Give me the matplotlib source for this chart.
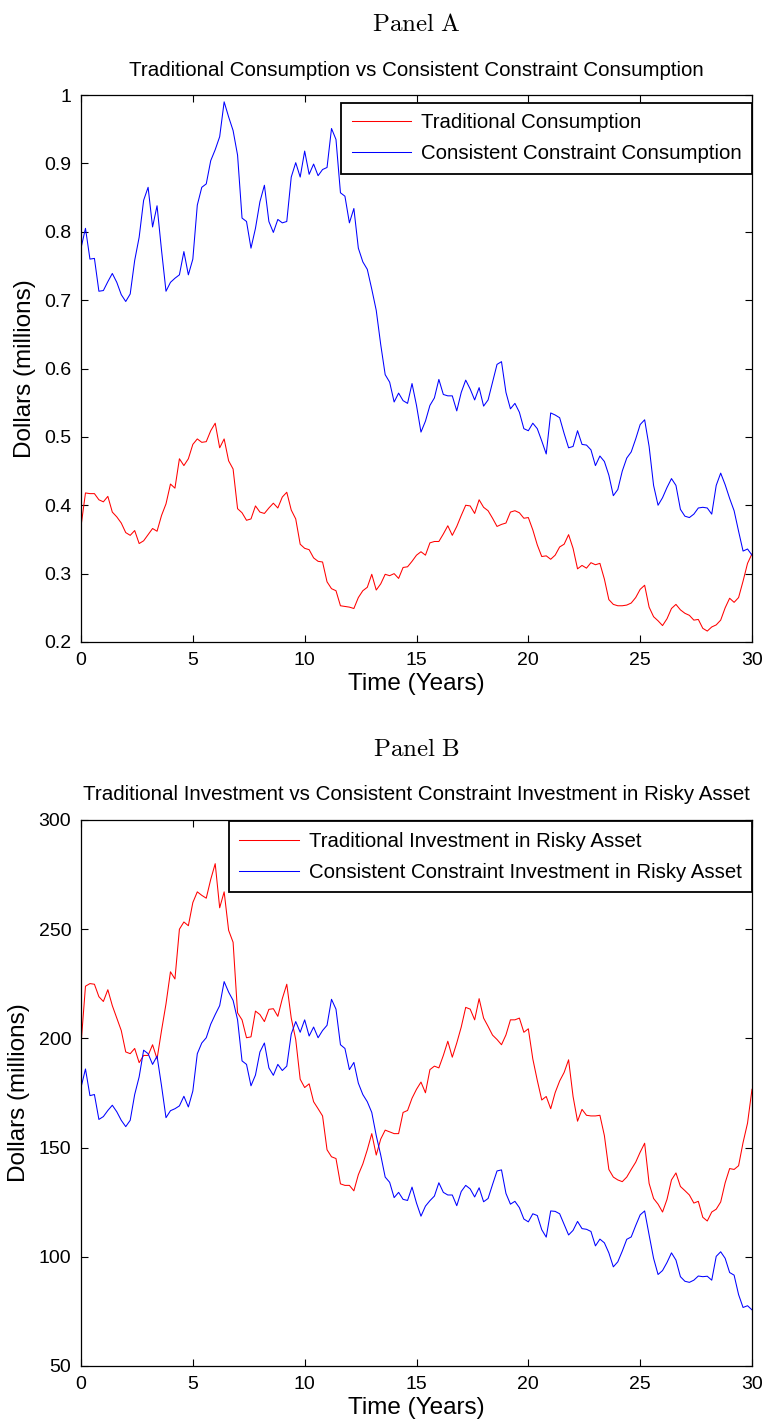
import numpy as np
import matplotlib
matplotlib.use("Agg")
import matplotlib.pyplot as plt

plt.rcParams["font.family"] = ["Liberation Sans", "DejaVu Sans"]
plt.rcParams["mathtext.fontset"] = "cm"

# Simulation horizon sampled every 0.2 years
years = np.round(np.arange(0, 30.0001, 0.2), 1)

# Panel A: consumption paths (millions of dollars)
trad_consumption = [
    0.369, 0.418, 0.417, 0.417, 0.408, 0.405, 0.413, 0.390, 0.383, 0.374,
    0.360, 0.356, 0.363, 0.344, 0.348, 0.357, 0.366, 0.362, 0.385, 0.402,
    0.431, 0.425, 0.468, 0.458, 0.468, 0.489, 0.497, 0.492, 0.493, 0.509,
    0.520, 0.484, 0.497, 0.465, 0.453, 0.395, 0.389, 0.378,
    0.380, 0.399, 0.390, 0.388, 0.396, 0.403, 0.396, 0.412, 0.419, 0.393,
    0.380, 0.343, 0.337, 0.335, 0.323, 0.318, 0.317, 0.288, 0.278, 0.275,
    0.253, 0.252, 0.251, 0.249, 0.265, 0.275, 0.280, 0.299, 0.276, 0.285,
    0.299, 0.297, 0.300, 0.293, 0.309, 0.310, 0.318, 0.327,
    0.332, 0.327, 0.345, 0.347, 0.347, 0.358, 0.370, 0.356, 0.369, 0.385,
    0.400, 0.399, 0.388, 0.408, 0.397, 0.392, 0.381, 0.369, 0.372, 0.374,
    0.390, 0.392, 0.389, 0.381, 0.382, 0.364, 0.342, 0.325, 0.326, 0.321,
    0.327, 0.339, 0.343, 0.357, 0.337, 0.307, 0.312, 0.308,
    0.316, 0.313, 0.315, 0.292, 0.262, 0.255, 0.253, 0.253, 0.254, 0.257,
    0.265, 0.277, 0.283, 0.251, 0.237, 0.231, 0.224, 0.234, 0.249, 0.255,
    0.247, 0.242, 0.239, 0.232, 0.233, 0.220, 0.216, 0.222, 0.225, 0.232,
    0.250, 0.264, 0.258, 0.265, 0.289, 0.315, 0.329,
]
cons_consumption = [
    0.776, 0.805, 0.760, 0.761, 0.713, 0.714, 0.727, 0.739, 0.726, 0.708,
    0.698, 0.709, 0.758, 0.792, 0.846, 0.865, 0.807, 0.838, 0.773, 0.713,
    0.726, 0.732, 0.737, 0.771, 0.737, 0.760, 0.839, 0.865, 0.870, 0.904,
    0.920, 0.939, 0.990, 0.968, 0.948, 0.912, 0.820, 0.815,
    0.776, 0.805, 0.844, 0.868, 0.815, 0.799, 0.818, 0.813, 0.815, 0.880,
    0.901, 0.880, 0.918, 0.884, 0.899, 0.882, 0.891, 0.894, 0.951, 0.935,
    0.857, 0.852, 0.813, 0.834, 0.776, 0.756, 0.745, 0.716, 0.685, 0.635,
    0.591, 0.580, 0.551, 0.564, 0.553, 0.549, 0.578, 0.546,
    0.507, 0.523, 0.546, 0.557, 0.584, 0.562, 0.560, 0.560, 0.538, 0.565,
    0.583, 0.570, 0.554, 0.572, 0.545, 0.554, 0.580, 0.606, 0.610, 0.565,
    0.541, 0.549, 0.536, 0.512, 0.509, 0.520, 0.512, 0.494, 0.475, 0.535,
    0.532, 0.528, 0.505, 0.484, 0.486, 0.509, 0.489, 0.488,
    0.481, 0.458, 0.472, 0.464, 0.444, 0.414, 0.423, 0.450, 0.469, 0.478,
    0.497, 0.518, 0.525, 0.486, 0.429, 0.400, 0.411, 0.426, 0.439, 0.429,
    0.394, 0.384, 0.382, 0.387, 0.396, 0.397, 0.396, 0.387, 0.429, 0.447,
    0.430, 0.410, 0.392, 0.362, 0.333, 0.336, 0.327,
]

# Panel B: investment in the risky asset (millions of dollars)
trad_investment = [
    197.1, 223.9, 225.1, 224.8, 219.1, 216.9, 222.3, 215.0, 209.3, 203.6,
    193.8, 193.0, 195.4, 188.9, 192.2, 192.2, 197.1, 190.6, 203.6, 215.8,
    230.5, 227.2, 250.0, 253.3, 251.6, 262.2, 267.1, 265.5, 264.2, 272.8,
    280.0, 259.8, 267.1, 249.5, 244.0, 211.7, 208.5, 200.3,
    200.7, 212.5, 210.9, 207.7, 213.3, 213.6, 210.1, 218.2, 224.8, 209.3,
    199.5, 181.3, 177.5, 179.2, 171.0, 167.8, 164.5, 149.0, 145.8, 145.0,
    133.4, 132.7, 132.7, 130.2, 137.6, 142.5, 149.0, 156.4, 146.6, 153.9,
    158.0, 157.2, 156.4, 156.4, 166.1, 167.0, 172.6, 176.7,
    180.0, 175.1, 185.7, 187.3, 186.5, 192.2, 198.7, 191.4, 197.9, 205.2,
    214.2, 213.4, 208.5, 218.2, 209.3, 205.5, 201.5, 199.5, 197.1, 201.6,
    208.5, 208.5, 209.3, 202.8, 204.4, 190.6, 180.8, 171.8, 173.4, 167.8,
    175.2, 180.5, 184.4, 190.2, 173.4, 162.1, 167.5, 164.8,
    164.5, 164.5, 164.8, 155.5, 140.0, 136.5, 135.2, 134.4, 136.5, 140.0,
    143.3, 147.9, 152.0, 133.6, 126.7, 124.1, 120.5, 126.3, 135.2, 138.4,
    132.2, 130.3, 128.3, 124.6, 125.4, 118.1, 116.4, 120.5, 121.8, 125.1,
    133.9, 140.4, 140.0, 141.7, 152.3, 161.2, 176.7,
]
cons_investment = [
    177.5, 186.0, 173.8, 174.3, 162.9, 164.2, 167.0, 169.4, 166.4, 162.5,
    159.6, 162.5, 174.3, 182.4, 194.6, 193.0, 188.1, 191.9, 178.3, 163.7,
    166.9, 167.8, 169.1, 173.5, 168.6, 175.9, 193.0, 197.9, 200.3, 206.5,
    210.9, 215.0, 226.0, 221.2, 217.4, 208.5, 189.7, 188.1,
    178.3, 183.2, 193.8, 197.9, 186.5, 183.1, 188.1, 185.3, 187.3, 202.0,
    207.7, 202.8, 208.5, 201.1, 205.2, 200.3, 203.6, 206.0, 217.9, 213.4,
    197.1, 195.4, 185.7, 189.0, 179.5, 174.3, 171.0, 166.1, 155.5, 146.6,
    136.5, 134.1, 127.1, 129.5, 126.3, 125.8, 131.9, 124.6,
    118.6, 123.2, 125.7, 127.8, 133.9, 129.5, 128.3, 128.3, 123.4, 129.9,
    132.7, 131.1, 127.4, 131.6, 125.2, 126.7, 133.1, 139.3, 139.8, 129.0,
    124.1, 125.4, 122.5, 117.3, 116.0, 119.7, 118.9, 112.4, 109.0, 121.0,
    120.8, 119.7, 114.8, 110.0, 112.1, 116.2, 112.9, 112.6,
    111.6, 105.0, 108.1, 106.4, 101.8, 95.4, 97.7, 102.6, 108.0, 109.1,
    114.3, 119.2, 121.0, 110.0, 99.3, 91.9, 93.7, 97.4, 101.8, 98.5,
    90.9, 88.8, 88.3, 89.3, 91.2, 90.9, 91.1, 89.3, 100.2, 102.3,
    99.3, 92.8, 91.6, 82.7, 76.8, 77.6, 75.7,
]

x_ticks = [0, 5, 10, 15, 20, 25, 30]
a_ticks = [0.2, 0.3, 0.4, 0.5, 0.6, 0.7, 0.8, 0.9, 1.0]
a_tick_labels = ["0.2", "0.3", "0.4", "0.5", "0.6", "0.7", "0.8", "0.9", "1"]
b_ticks = [50, 100, 150, 200, 250, 300]

W, H = 765, 1427
fig = plt.figure(figsize=(W / 100, H / 100), dpi=100)


def frac_axes(left, top, right, bottom):
    return fig.add_axes([left / W, 1 - bottom / H, (right - left) / W, (bottom - top) / H])


def style_axes(ax):
    ax.set_xlim(0, 30)
    ax.set_xticks(x_ticks)
    ax.tick_params(direction="in", length=5, width=0.8, top=True, right=True,
                   labelsize=14, pad=7, colors="black")
    for s in ax.spines.values():
        s.set_linewidth(0.9)
    ax.set_xlabel("Time (Years)", fontsize=17.5, labelpad=3)
    ax.set_ylabel("Dollars (millions)", fontsize=17.5, labelpad=6)


legend_kw = dict(fontsize=14.7, frameon=True, fancybox=False, edgecolor="black",
                 framealpha=1, handlelength=2.9, handletextpad=0.5,
                 borderpad=0.5, labelspacing=0.6, borderaxespad=0)

LW = 0.75

# Panel A
axA = frac_axes(81, 95, 752, 642)
axA.plot(years, trad_consumption, color="#ff0000", lw=LW, label="Traditional Consumption")
axA.plot(years, cons_consumption, color="#0000ff", lw=LW,
         label="Consistent Constraint Consumption")
axA.set_ylim(0.2, 1.0)
axA.set_yticks(a_ticks)
axA.set_yticklabels(a_tick_labels)
style_axes(axA)
legA = axA.legend(loc="upper right", bbox_to_anchor=(1.0, 1 - 8 / 547), **legend_kw)
legA.get_frame().set_linewidth(1.3)
fig.text(416 / W, 1 - 24 / H, r"$\mathrm{Panel\ A}$", ha="center", va="center", fontsize=18)
fig.text(416 / W, 1 - 70 / H, "Traditional Consumption vs Consistent Constraint Consumption",
         ha="center", va="center", fontsize=14.8)

# Panel B
axB = frac_axes(81, 820, 752, 1366)
axB.plot(years, trad_investment, color="#ff0000", lw=LW,
         label="Traditional Investment in Risky Asset")
axB.plot(years, cons_investment, color="#0000ff", lw=LW,
         label="Consistent Constraint Investment in Risky Asset")
axB.set_ylim(50, 300)
axB.set_yticks(b_ticks)
style_axes(axB)
legB = axB.legend(loc="upper right", bbox_to_anchor=(1.0, 1 - 1.5 / 546), **legend_kw)
legB.get_frame().set_linewidth(1.3)
fig.text(416 / W, 1 - 749 / H, r"$\mathrm{Panel\ B}$", ha="center", va="center", fontsize=18)
fig.text(416 / W, 1 - 795 / H,
         "Traditional Investment vs Consistent Constraint Investment in Risky Asset",
         ha="center", va="center", fontsize=14.8)

fig.savefig("out.png", dpi=100)
